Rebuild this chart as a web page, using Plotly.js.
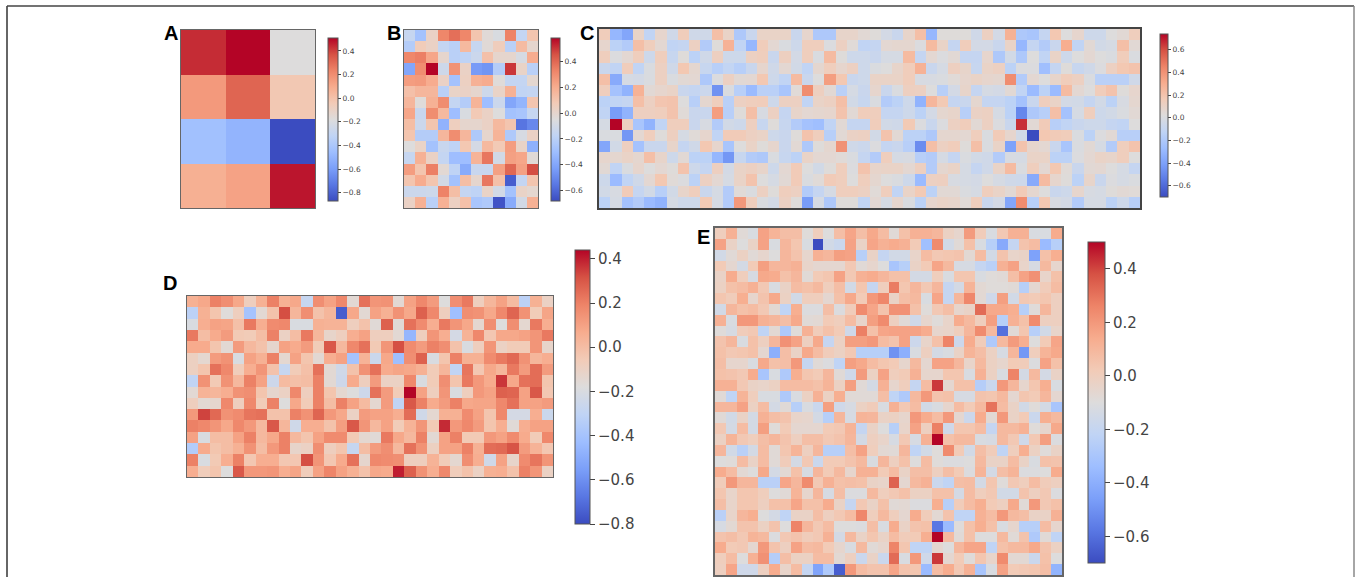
<!DOCTYPE html>
<html><head><meta charset="utf-8">
<script src="https://cdn.plot.ly/plotly-3.0.1.min.js"></script>
<style>html,body{margin:0;padding:0;background:#fff;overflow:hidden}</style>
</head><body><div id="chart" style="width:1356px;height:577px"></div>
<script>
// all cell values are in hundredths
const panelA = [[44,51,-18],[16,32,-3],[-44,-50,-87],[8,13,48]];
const panelB = [
[-15,-28,3,32,38,32,10,-3,-7,33,-16,10],
[-22,7,3,-16,-20,15,-15,-3,6,-20,14,0],
[32,34,22,0,-20,-18,-13,12,0,0,-8,20],
[-40,30,58,-12,28,3,-44,-46,-22,50,2,-20],
[25,26,20,3,-28,4,18,20,-4,-16,-16,-1],
[12,16,16,-20,2,3,0,-12,2,18,-17,-16],
[16,-4,18,30,-16,-22,17,-30,-13,-40,-34,10],
[22,-14,30,15,-30,-7,8,3,-5,-28,-26,-15],
[13,-13,10,-35,5,0,0,3,15,10,-56,-50],
[10,-22,-22,16,30,16,-24,0,17,-24,-8,3],
[-5,2,-28,-14,-18,9,-9,15,8,25,2,-36],
[-15,18,3,-16,-30,-30,17,36,-10,24,22,-3],
[25,10,34,-2,-18,-38,-14,-14,24,40,24,46],
[10,20,10,-10,-28,13,0,36,12,-63,-16,10],
[-13,-13,-12,33,13,-16,-18,2,-10,-28,2,-1],
[3,18,-20,18,4,12,-26,-24,-66,-38,-10,18]];
const panelC = [
[15,-30,-38,10,-12,8,-5,15,-5,-5,22,10,-20,-8,10,10,10,-8,8,-20,-20,9,9,5,3,-3,-8,9,22,-30,3,3,3,-5,12,-3,28,-20,-22,-10,18,2,8,-6,-6,2,5,14],
[8,-14,-18,22,14,6,-12,-10,12,-18,3,28,-12,-30,15,6,0,-6,14,14,1,12,4,-12,-10,6,7,7,1,24,10,-10,15,-3,-3,-8,10,-30,-10,-18,-8,30,-12,5,-4,-2,22,5],
[14,1,6,14,-6,14,-9,3,-14,-5,13,-6,-6,12,14,-8,13,-3,14,0,24,3,-6,-6,-8,-2,-2,24,-10,6,1,5,-10,-10,8,-20,-4,-20,2,-12,10,-6,2,6,2,0,15,0],
[-8,-12,15,-12,0,12,-5,18,7,-9,-16,-11,-16,-8,8,-5,6,-4,-12,7,14,8,12,-6,0,2,9,15,28,-8,-2,13,9,-9,10,12,-14,1,1,-26,-10,3,-9,-5,1,12,18,20],
[22,-36,-2,-3,0,12,0,5,6,-20,1,12,5,6,18,-6,-12,24,-8,2,36,18,-8,-6,10,10,10,15,-1,-1,0,4,8,10,8,7,42,-18,6,2,9,15,12,0,-15,-15,-15,-5],
[14,-24,-32,28,5,8,10,-8,-10,-7,-46,0,-16,-28,-15,-15,-22,4,42,13,5,-15,-2,-8,8,-8,0,13,12,2,-16,-3,9,-10,-2,-3,5,-12,-28,-14,-28,24,6,2,15,20,3,8],
[-14,-12,-10,22,12,19,20,2,-16,7,14,-15,12,14,15,-6,12,12,-12,10,12,22,-4,-9,0,-18,-14,-6,-32,26,17,-10,-8,7,-10,-10,-14,-24,-8,14,10,-3,-4,-10,-4,-14,-1,7],
[-12,-42,-32,13,13,14,20,4,-8,-8,36,-16,3,22,-1,12,-10,9,6,7,8,20,5,15,14,-10,-10,-6,-14,-3,7,9,-16,11,12,-2,-14,-50,-20,-16,22,-24,-2,14,-6,-4,0,5],
[-2,74,12,-22,-32,-12,14,14,-8,-1,-18,-4,-6,13,-9,3,-9,-18,-24,-26,-12,5,-10,-10,15,-4,-5,17,1,-8,1,12,15,5,12,1,-8,66,5,16,-16,-12,-8,-6,-6,-10,-12,2],
[0,0,-44,6,14,3,13,-2,4,8,-12,16,16,12,10,-6,-8,3,20,14,-16,5,11,12,-4,20,5,-14,-14,-20,7,7,6,14,0,16,8,-4,-70,18,16,15,0,-14,1,5,-16,-16],
[-38,-4,13,-24,-8,-8,9,-10,-5,18,8,-22,2,10,3,8,-8,5,-20,3,7,40,-5,-7,1,-10,-8,-16,-48,22,12,15,3,22,0,10,-40,20,8,6,-8,-22,0,5,-2,-18,14,20],
[8,7,10,7,22,9,-6,5,-14,-14,-30,-44,-9,-18,-20,0,-9,-14,10,6,6,4,0,-10,-18,14,-2,-1,-16,-18,-2,-10,0,-4,-5,-18,-1,-2,10,10,-14,-14,1,6,10,9,14,2],
[5,-12,0,8,2,6,3,20,-6,-10,13,-3,10,12,9,-6,6,16,2,-4,3,14,1,20,9,10,10,6,13,-18,7,10,-2,-10,-5,10,24,0,14,6,18,4,-8,5,6,2,-2,-10],
[-6,-28,-12,-5,6,18,4,1,-14,12,6,-2,10,20,2,-2,5,16,0,4,16,14,2,14,7,2,0,-6,-28,12,13,-1,-2,-3,2,-2,-5,-6,-36,24,8,3,-14,9,-8,1,-2,0],
[-4,-1,16,-10,-4,-16,-4,9,14,-8,-2,-18,4,0,12,3,14,12,-18,-10,-2,14,14,12,4,14,-12,10,17,-14,5,5,0,-2,14,10,5,16,7,2,-8,-6,8,-1,-2,3,5,4],
[-14,-2,-24,-18,-28,-32,-2,-6,-6,17,-2,-18,38,14,0,-3,12,3,-42,-2,-20,3,3,-12,6,-2,8,0,-14,8,10,9,4,14,-8,-3,-38,42,-16,18,-1,-3,-18,-2,-2,-14,-6,-16]];
const panelD = [
[5,8,20,16,8,-8,5,20,5,8,-28,16,10,18,-15,24,14,15,-15,10,18,12,-18,16,22,-8,3,10,1,-32,5,-10],
[-32,5,-3,-17,-8,-40,-15,-2,32,3,16,-2,3,-75,8,-15,10,5,15,8,28,18,-8,-42,16,15,8,18,27,15,-6,9],
[-20,6,10,9,-1,22,6,17,18,-20,-20,5,4,4,-8,-2,-16,28,-16,24,17,6,22,14,8,-14,16,-18,16,-14,22,6],
[22,0,7,12,-5,-6,0,20,-10,0,22,3,-12,-8,6,10,-8,-8,-15,-46,-8,14,6,-22,4,18,-4,8,8,10,14,22],
[7,7,-3,-15,12,2,-2,-13,10,7,12,-6,30,2,18,24,-5,14,32,17,12,20,16,-2,-20,-8,14,-10,-6,-6,14,-12],
[-9,-14,12,15,-20,10,5,20,-14,10,-3,-15,6,10,-40,4,-26,8,-42,16,28,-20,-3,20,5,5,17,22,26,15,3,6],
[-9,-3,24,18,-7,6,14,-2,-28,-6,-1,24,-15,-24,-2,15,24,7,9,8,5,-6,3,-30,23,-4,8,3,22,12,25,12],
[-30,15,-5,15,2,20,10,-25,1,-1,0,20,-15,-25,7,-8,12,-10,-10,18,-20,-6,16,-3,22,13,7,36,8,24,25,-3],
[-15,4,3,6,15,16,-3,-13,-10,18,-8,20,-3,-14,-18,-25,24,12,-6,44,10,-8,14,-20,-8,13,10,28,27,10,30,-4],
[-8,-15,-13,18,-8,18,-6,20,-18,8,-6,20,0,20,10,1,-14,12,-30,30,20,7,12,20,8,9,9,18,24,10,10,12],
[13,34,26,15,17,23,24,-2,-2,20,15,27,13,8,-10,12,10,10,6,25,-24,-14,5,5,17,10,-3,18,-22,-22,6,-26],
[20,18,14,8,18,13,2,30,3,-24,6,6,-2,11,30,14,2,10,-6,4,14,-5,38,13,18,12,-3,6,-16,6,10,10],
[10,-20,0,0,10,20,2,8,20,2,-3,10,17,17,-5,-14,-16,22,8,2,20,-15,10,20,-5,-5,13,10,17,7,-6,18],
[-35,7,-3,0,5,15,0,13,20,-12,-10,16,-8,-3,-28,0,12,16,2,24,15,-9,10,10,20,5,25,26,31,12,4,-4],
[20,-20,-5,6,20,-4,6,6,-4,-4,32,14,-4,7,24,-13,18,17,16,-8,-8,4,-6,-14,16,6,-24,10,-12,17,23,14],
[6,-7,-3,-18,30,13,13,14,6,9,-7,10,19,10,5,-2,8,7,40,28,15,6,18,-7,-2,-10,5,6,-2,20,14,-10]];
const panelE = [
[0,12,-8,-12,17,11,7,7,-9,0,-10,7,16,7,15,8,-8,6,12,12,10,-2,-5,19,1,-12,3,12,12,-12,-12,14],
[17,-3,-10,-3,17,-12,10,4,-12,-70,-15,-18,17,-3,16,12,14,12,2,-33,24,-15,-8,6,-12,-25,-42,-20,5,8,-35,-25],
[-15,-8,-2,-8,-5,-10,10,5,-5,12,10,18,17,-25,-3,-20,-15,-15,-4,8,3,4,5,-7,8,-15,5,-4,-3,-45,6,13],
[2,-6,-14,2,18,10,10,12,-4,-6,-6,-6,3,-8,-5,-10,-30,-25,-3,2,16,9,-13,-13,-20,-24,12,17,-4,-13,9,-5],
[-3,14,0,-13,15,14,6,10,-8,2,4,17,3,12,14,10,6,6,-14,-14,0,-12,4,4,-12,-9,-8,7,17,22,-4,6],
[-2,6,8,12,3,-12,-3,8,6,9,0,7,-15,4,-20,0,28,4,10,3,10,-20,-14,11,-7,-9,-9,-8,-25,-6,1,8],
[4,1,13,-5,5,15,-2,-15,0,0,-6,6,15,2,20,25,-3,7,9,-12,16,-20,10,25,-7,-16,18,-15,3,2,4,-1],
[-15,10,6,8,3,-7,-22,13,-11,-11,7,-11,1,24,16,5,22,22,6,-9,3,7,-5,-3,32,15,15,13,-25,-9,10,-1],
[12,-12,20,20,12,10,7,15,-8,-7,2,0,8,-4,18,24,-1,-8,-16,-5,-9,-4,14,9,0,18,-25,12,6,24,-1,-1],
[-9,-13,1,3,-22,-7,-28,-9,12,1,6,2,-16,27,6,16,17,17,17,14,-5,-4,0,10,24,9,-60,-8,4,-25,-15,-4],
[5,10,-12,6,-1,10,22,17,-1,15,-20,-2,18,18,20,8,5,17,-17,-4,6,26,-17,14,1,-28,9,19,13,-10,2,16],
[6,3,4,6,-6,-40,7,-3,15,8,1,-2,3,-25,-25,-25,-50,-40,-12,-1,-14,-12,-3,11,7,-2,-13,10,-48,0,11,15],
[7,-5,-5,-12,15,6,7,20,-20,-8,-11,-22,18,15,8,4,2,-5,9,-6,17,17,10,-4,9,-2,-5,2,1,-11,17,6],
[6,5,3,14,-30,-12,-28,13,4,2,10,-8,-16,19,-2,17,0,2,12,-5,-5,4,4,-12,12,-2,-12,26,-14,9,-14,-3],
[12,12,3,-3,-4,-2,8,8,8,6,11,-2,18,-8,-14,12,-5,0,-20,8,42,-6,6,6,-26,-18,20,10,-5,4,13,-12],
[-8,-22,11,0,-12,-12,-28,-12,-2,12,-2,13,-8,-8,-8,7,-22,-28,9,20,5,6,-13,-13,5,4,9,-6,4,2,10,-6],
[10,10,17,-2,8,-14,-8,-25,-12,-18,18,-16,-13,-2,1,-12,12,3,8,-15,-12,-5,8,2,9,30,8,-3,-15,-9,-14,-30],
[-8,-15,-3,-14,12,7,5,-4,-5,-14,-25,10,-13,11,10,-3,-2,-5,20,14,8,20,-6,-17,14,-7,20,-3,2,-18,13,9],
[3,-14,8,-14,18,-9,2,-6,-6,-6,2,3,11,-20,-3,-10,-25,-4,17,-1,27,-16,4,4,8,-20,9,9,12,-9,-5,15],
[-2,11,3,0,7,10,5,-1,7,7,3,5,10,-14,-1,-4,-13,3,-13,12,50,6,9,9,-12,-13,9,3,-16,3,18,-11],
[10,-15,-24,-14,8,-8,4,11,-1,10,-25,-25,7,17,0,-7,-8,10,-22,-15,-9,24,2,-15,7,1,-22,0,13,-2,-9,-3],
[-10,-9,8,-3,8,-8,1,-14,3,-18,2,2,5,9,-12,10,-1,6,-10,8,-9,-11,-11,-10,9,-3,-3,8,-3,-12,6,5],
[14,8,-7,-10,15,-14,-7,6,-13,10,2,9,-5,12,12,2,8,-3,7,7,-1,7,2,-11,11,-14,7,11,-11,-11,-10,14],
[1,20,10,10,-24,-24,16,10,24,3,12,6,7,6,-3,-4,34,-6,9,12,-18,-22,7,8,-14,4,-9,3,0,8,1,-1],
[4,-4,4,4,0,-10,-8,11,-5,10,-13,7,-11,-11,9,0,3,6,-2,-2,6,6,-14,8,0,3,-15,-15,5,-1,3,-11],
[7,-4,4,4,-1,6,6,16,6,6,14,-3,-20,3,-3,6,-8,-7,-11,-11,13,-25,1,8,13,2,-1,15,-8,20,3,6],
[-24,-4,10,13,-10,-14,-22,-3,-3,7,-1,3,8,25,0,9,0,-6,14,1,-7,5,-22,-22,12,8,20,9,7,-3,-3,12],
[-13,-7,5,5,-2,5,-10,26,10,3,8,-10,-10,-11,7,-12,14,-3,5,6,-58,-35,-9,6,13,6,-12,-5,-25,-25,8,-5],
[5,7,3,11,9,-11,3,5,1,3,12,-14,9,-3,4,-3,8,1,2,13,50,9,-8,6,-10,-10,9,-8,5,-28,-8,-22],
[14,2,3,-6,20,5,-1,17,8,9,2,-5,-12,9,-8,-5,26,4,-22,-22,-6,-10,10,16,16,-22,6,9,9,15,5,-2],
[0,8,-10,12,22,-26,7,-2,-2,8,8,-7,-1,-18,-3,-18,32,-12,20,-16,42,-6,2,-9,4,-4,24,-7,-7,-18,6,-10],
[-1,16,-16,-16,-1,14,-4,8,-20,-44,-28,-65,20,8,5,5,16,5,4,-35,8,14,3,12,-30,-12,17,2,3,4,7,-38]];

const ticksA = [-0.8,-0.6,-0.4,-0.2,0,0.2,0.4];
const ticksB = [-0.6,-0.4,-0.2,0,0.2,0.4];
const ticksC = [-0.6,-0.4,-0.2,0,0.2,0.4,0.6];
const ticksD = [-0.8,-0.6,-0.4,-0.2,0,0.2,0.4];
const ticksE = [-0.6,-0.4,-0.2,0,0.2,0.4];

const coolwarm = [[0,'#3b4cc0'],[0.1,'#5977e3'],[0.2,'#7b9ff9'],[0.3,'#9ebeff'],[0.4,'#c0d4f5'],[0.5,'#dddcdc'],[0.6,'#f2cbb7'],[0.7,'#f7ac8e'],[0.8,'#ee8468'],[0.9,'#d65244'],[1,'#b40426']];

const W = 1356, H = 577;
const panels = [
 {z:panelA, zmin:-0.87, zmax:0.51, ticks:ticksA, box:[181,315,30,208], bar:[328,10,38,201], font:7.5, letter:'A', lx:171, ly:33},
 {z:panelB, zmin:-0.68, zmax:0.58, ticks:ticksB, box:[404,538,30,208], bar:[551,9,38,201], font:7.5, letter:'B', lx:394, ly:33},
 {z:panelC, zmin:-0.70, zmax:0.74, ticks:ticksC, box:[599,1140,29,208], bar:[1160,8,34,197], font:7.5, letter:'C', lx:587, ly:33},
 {z:panelD, zmin:-0.80, zmax:0.44, ticks:ticksD, box:[187,553,296,477], bar:[575,15,250,524], font:15, letter:'D', lx:170, ly:283},
 {z:panelE, zmin:-0.70, zmax:0.50, ticks:ticksE, box:[715,1062,228,575], bar:[1088,17,242,563], font:15, letter:'E', lx:703, ly:237}
];

const data = [], annotations = [];
const layout = {width:W, height:H, margin:{l:0,r:0,t:0,b:0}, paper_bgcolor:'#fff', plot_bgcolor:'#fff', showlegend:false,
  font:{family:'"DejaVu Sans",sans-serif', color:'#333'}};
panels.forEach((p,i)=>{
  const n = i===0 ? '' : String(i+1);
  data.push({type:'heatmap', z:p.z.map(r=>r.map(v=>v/100)), zmin:p.zmin, zmax:p.zmax, colorscale:coolwarm,
    xaxis:'x'+n, yaxis:'y'+n, hoverinfo:'skip', xgap:0, ygap:0,
    colorbar:{thickness:p.bar[1], thicknessmode:'pixels', len:p.bar[3]-p.bar[2], lenmode:'pixels',
      x:p.bar[0]/W, xanchor:'left', y:1-p.bar[2]/H, yanchor:'top', xpad:0, ypad:0,
      outlinewidth:1, outlinecolor:'#555', borderwidth:0,
      tickmode:'array', tickvals:p.ticks, ticktext:p.ticks.map(t=>(t<0?'\u2212':'')+Math.abs(t).toFixed(1)),
      ticks:'outside', ticklen:p.font>10?5:3, tickwidth:1, tickcolor:'#444', tickfont:{size:p.font,color:'#444',family:'"DejaVu Sans",sans-serif'}}});
  const lw = (i===2||i===4)?2:1.4;
  layout['xaxis'+n] = {domain:[p.box[0]/W,p.box[1]/W], anchor:'y'+n, showticklabels:false, ticks:'', showgrid:false, zeroline:false,
    showline:true, mirror:true, linecolor:i===2?'#444':'#666', linewidth:lw};
  layout['yaxis'+n] = {domain:[1-p.box[3]/H,1-p.box[2]/H], anchor:'x'+n, autorange:'reversed', showticklabels:false, ticks:'', showgrid:false, zeroline:false,
    showline:true, mirror:true, linecolor:i===2?'#444':'#666', linewidth:lw};
  annotations.push({xref:'paper', yref:'paper', x:p.lx/W, y:1-p.ly/H, text:'<b>'+p.letter+'</b>', showarrow:false,
    xanchor:'center', yanchor:'middle', font:{family:'"Liberation Sans",Arial,sans-serif', size:20, color:'#000'}});
});
layout.annotations = annotations;
layout.shapes = [
 {type:'line', xref:'paper', yref:'paper', x0:7/W, x1:7/W, y0:0, y1:1-6/H, line:{color:'#333',width:1.5}},
 {type:'line', xref:'paper', yref:'paper', x0:7/W, x1:1354/W, y0:1-6/H, y1:1-6/H, line:{color:'#444',width:1.5}},
 {type:'line', xref:'paper', yref:'paper', x0:1354/W, x1:1354/W, y0:0, y1:1-6/H, line:{color:'#888',width:1.5}}
];
Plotly.newPlot('chart', data, layout, {displayModeBar:false, staticPlot:true});
</script></body></html>
